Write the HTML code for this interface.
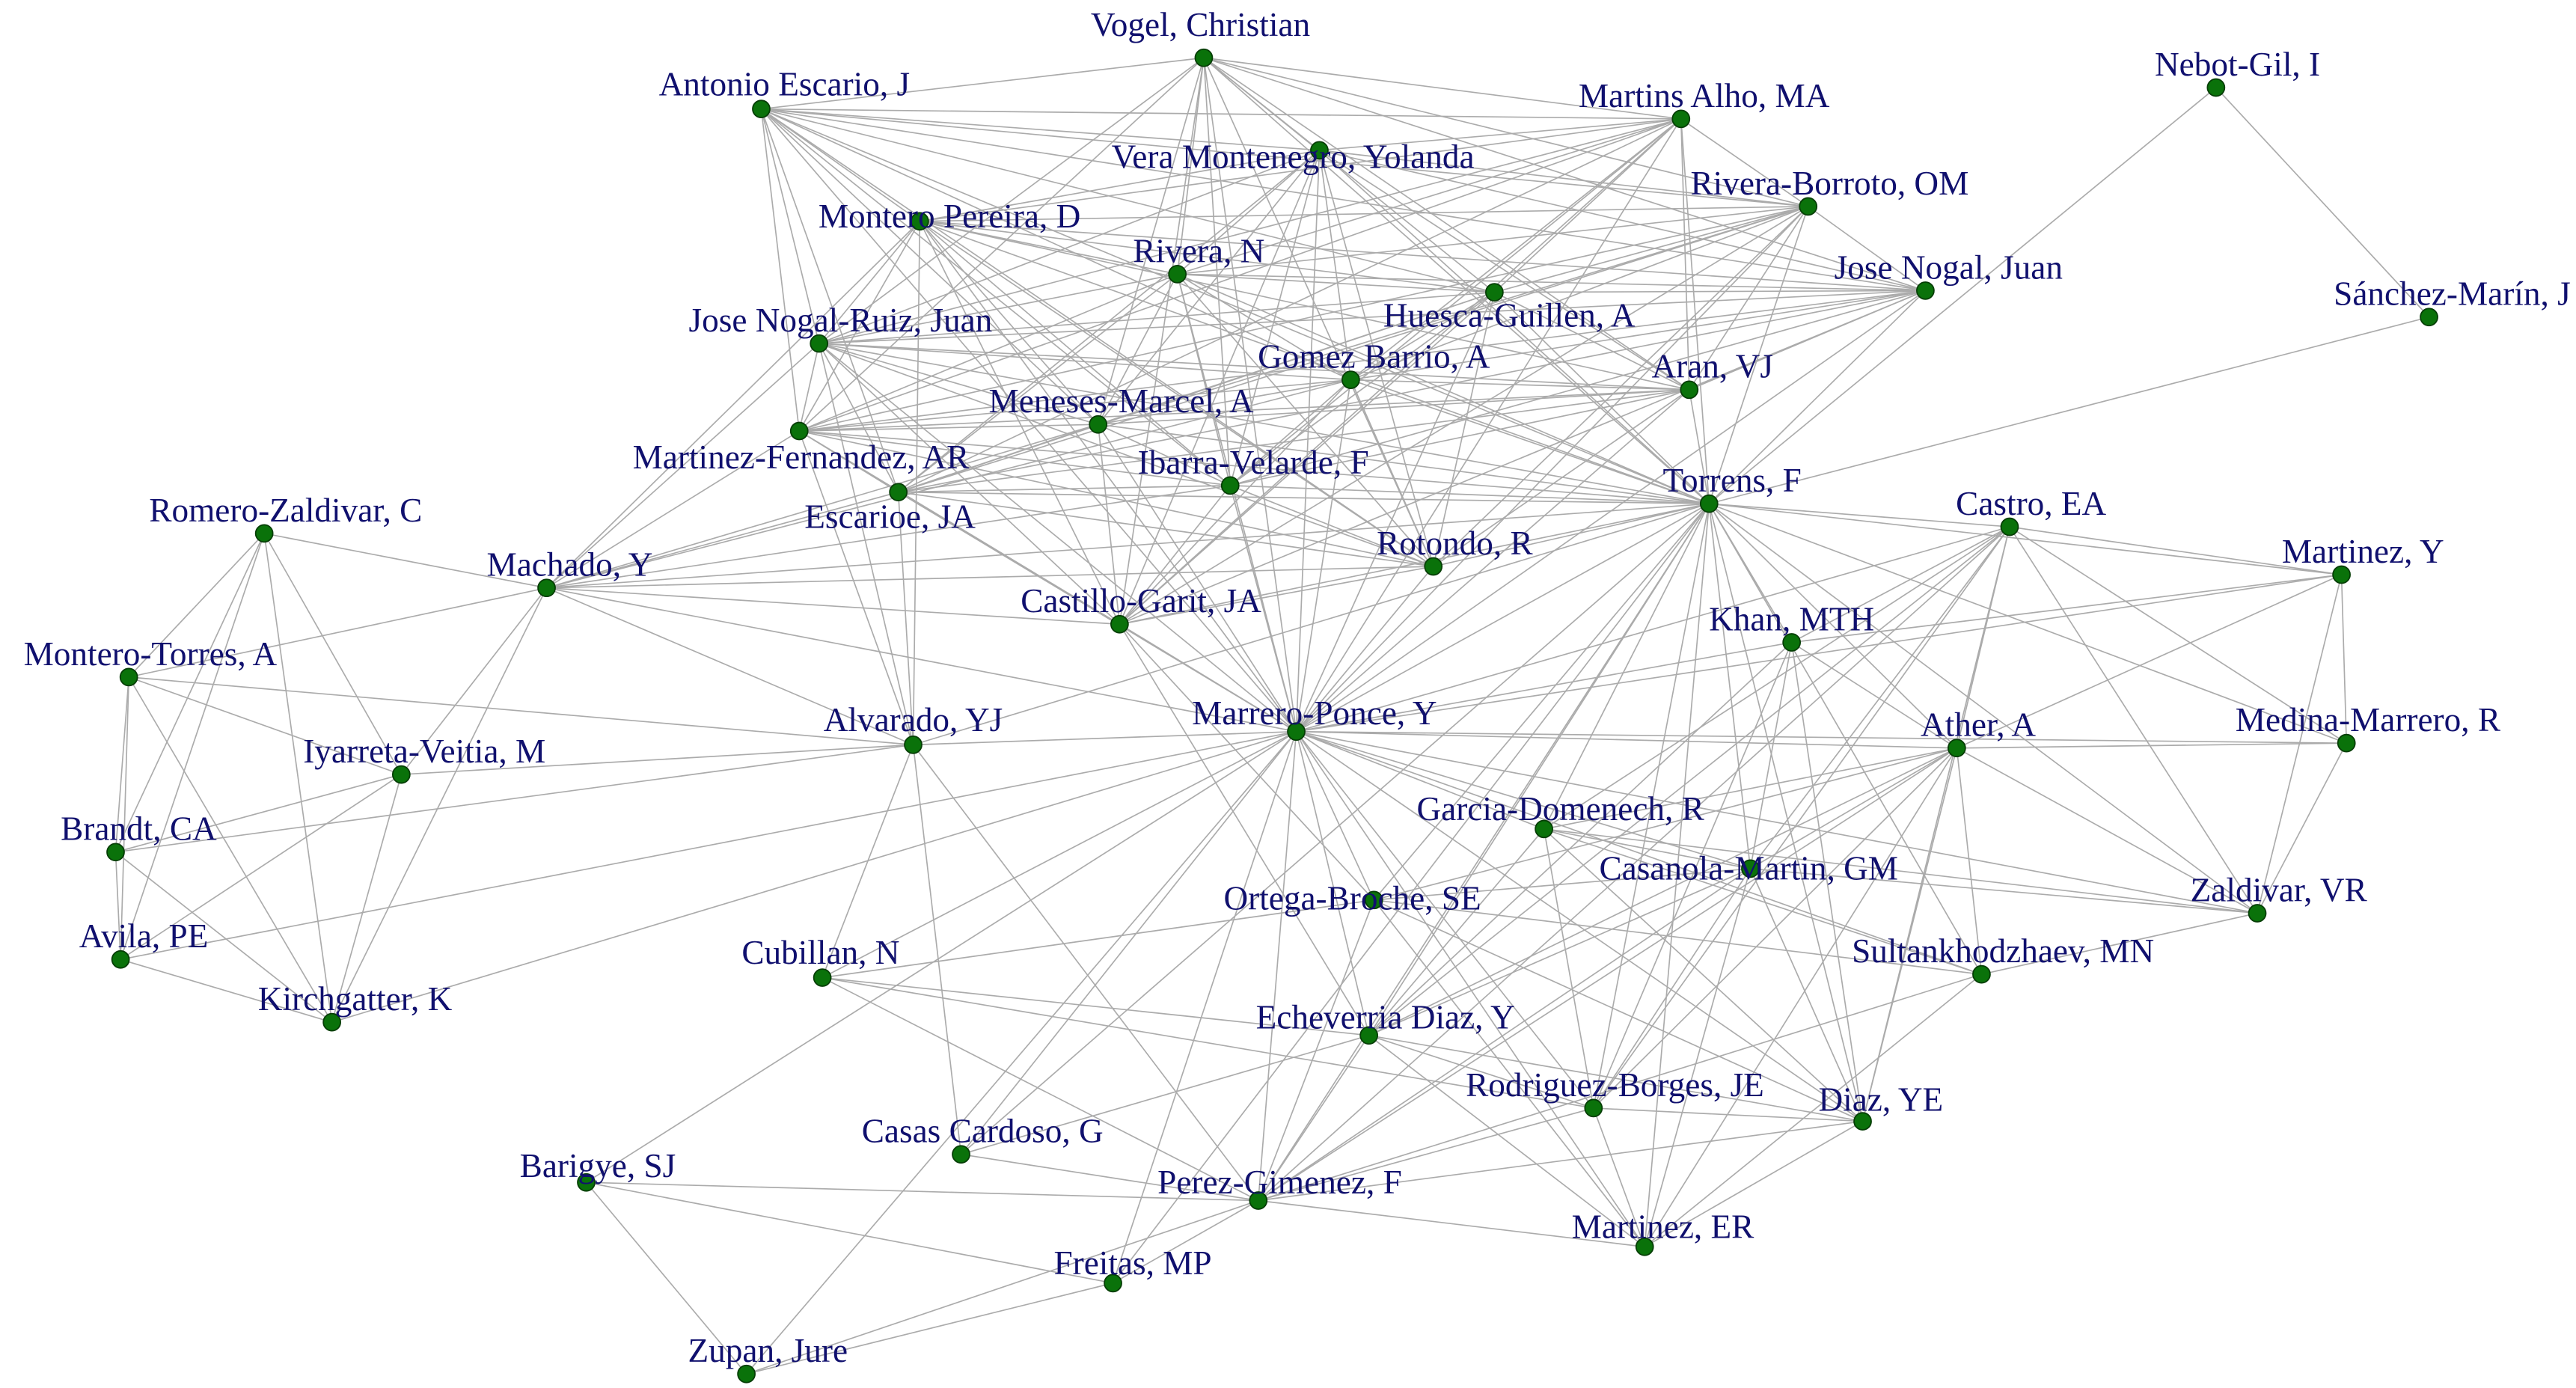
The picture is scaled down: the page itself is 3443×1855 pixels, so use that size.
<!DOCTYPE html>
<html><head><meta charset="utf-8"><style>
html,body{margin:0;padding:0;background:#fff;}
svg{display:block;}
text{font-family:"Liberation Serif",serif;font-size:20.5px;fill:#10106e;text-anchor:middle;dominant-baseline:middle;}
</style></head><body>
<svg id="s" width="3443" height="1855" viewBox="0 0 1560 840.5" xmlns="http://www.w3.org/2000/svg">
<g id="e" stroke="#ababab" stroke-width="0.75" fill="none"></g>
<g id="n"></g>
<g id="t"></g>
</svg>
<script>
var N={
VO:[729,35,"Vogel, Christian",727,17],
AE:[461,66,"Antonio Escario, J",475,53],
MA:[1018,72,"Martins Alho, MA",1032,60],
VM:[799,91,"Vera Montenegro, Yolanda",783,97],
NB:[1342,53,"Nebot-Gil, I",1355,41],
RB:[1095,125,"Rivera-Borroto, OM",1108,113],
MP:[557,134,"Montero Pereira, D",575,133],
RN:[713,166,"Rivera, N",726,154],
JN:[1166,176,"Jose Nogal, Juan",1180,164],
HG:[905,177,"Huesca-Guillen, A",914,193],
SM:[1471,192,"Sánchez-Marín, J",1485,180],
NR:[496,208,"Jose Nogal-Ruiz, Juan",509,196],
GB:[818,230,"Gomez Barrio, A",832,218],
AR:[1023,236,"Aran, VJ",1037,224],
MM:[665,257,"Meneses-Marcel, A",679,245],
MF:[484,261,"Martinez-Fernandez, AR",485,279],
IV:[745,294,"Ibarra-Velarde, F",759,282],
ES:[544,298,"Escarioe, JA",539,315],
TO:[1035,305,"Torrens, F",1049,293],
CA:[1217,319,"Castro, EA",1230,307],
RZ:[160,323,"Romero-Zaldivar, C",173,311],
MC:[331,356,"Machado, Y",345,344],
RO:[868,343,"Rotondo, R",881,331],
MY:[1418,348,"Martinez, Y",1431,336],
CG:[678,378,"Castillo-Garit, JA",691,366],
KH:[1085,389,"Khan, MTH",1085,377],
MT:[78,410,"Montero-Torres, A",91,398],
AL:[553,451,"Alvarado, YJ",553,438],
MR:[785,443,"Marrero-Ponce, Y",796,434],
AT:[1185,453,"Ather, A",1198,441],
MD:[1421,450,"Medina-Marrero, R",1434,438],
IY:[243,469,"Iyarreta-Veitia, M",257,457],
BR:[70,516,"Brandt, CA",84,504],
GD:[935,502,"Garcia-Domenech, R",945,492],
CM:[1060,526,"Casanola-Martin, GM",1059,528],
OB:[832,545,"Ortega-Broche, SE",819,546],
ZV:[1367,553,"Zaldivar, VR",1380,541],
AV:[73,581,"Avila, PE",87,569],
SU:[1200,590,"Sultankhodzhaev, MN",1213,578],
CU:[498,592,"Cubillan, N",497,579],
KI:[201,619,"Kirchgatter, K",215,607],
ED:[829,627,"Echeverria Diaz, Y",839,618],
RJ:[965,671,"Rodriguez-Borges, JE",978,659],
DY:[1128,679,"Diaz, YE",1139,668],
CC:[582,699,"Casas Cardoso, G",595,687],
BS:[355,716,"Barigye, SJ",362,708],
PG:[762,727,"Perez-Gimenez, F",775,718],
ME:[996,755,"Martinez, ER",1007,745],
FR:[674,777,"Freitas, MP",686,767],
ZU:[452,832,"Zupan, Jure",465,820]};
var E={};
function add(a,b){if(a==b)return;var k=a<b?a+b:b+a;E[k]=[a,b];}
var list="RZ-MT RZ-BR RZ-AV RZ-IY RZ-KI RZ-MC MT-BR MT-AV MT-IY MT-KI MT-MC BR-AV BR-IY BR-KI BR-AL AV-KI AV-IY AV-MR IY-KI IY-MC IY-AL KI-MC KI-MR MT-AL NB-TO NB-SM SM-TO BS-MR BS-PG BS-FR BS-ZU ZU-PG ZU-FR ZU-MR FR-PG FR-MR FR-TO MC-MP MC-NR MC-ES MC-IV MC-MM MC-AL MC-MR MC-CG MC-TO MC-GB MC-MF MC-RO CA-MY CA-MR CA-ZV CA-KH CA-MD MY-MD MY-ZV MY-MR MY-KH MY-AT MD-ZV MD-MR MD-TO MD-AT ZV-MR ZV-TO ZV-AT ZV-GD ZV-CM ZV-SU AL-CU AL-CC AL-PG AL-TO AL-MP AL-NR AL-MF AL-ES CU-PG CU-ED CU-OB CU-RJ CU-MR CC-MR CC-TO CC-ED CC-PG DY-PG DY-MR DY-TO ME-PG ME-MR ME-TO ME-OB CG-RO CG-OB CG-ED";
list.split(" ").forEach(function(p){var q=p.split("-");add(q[0],q[1]);});
var T=["VO","AE","MA","VM","RB","MP","RN","JN","HG","NR","GB","AR","MM","MF","IV","ES","CG","RO"];
for(var i=0;i<T.length;i++)for(var j=i+1;j<T.length;j++){if((i*7+j*3)%5!=0)add(T[i],T[j]);}
var B=["KH","AT","SU","CM","GD","DY","OB","ED","PG","RJ","ME","CA"];
for(var i=0;i<B.length;i++)for(var j=i+1;j<B.length;j++){if((i*5+j*2)%4!=0)add(B[i],B[j]);}
var exM={RZ:1,MT:1,IY:1,BR:1,NB:1,SM:1,MR:1};
for(var k in N){if(!exM[k])add("MR",k);}
var exT={RZ:1,MT:1,IY:1,BR:1,AV:1,KI:1,BS:1,ZU:1,CU:1,TO:1};
for(var k in N){if(!exT[k])add("TO",k);}
var s="http://www.w3.org/2000/svg",g=document.getElementById("e"),gn=document.getElementById("n"),gt=document.getElementById("t");
for(var k in E){var a=N[E[k][0]],b=N[E[k][1]];var l=document.createElementNS(s,"line");l.setAttribute("x1",a[0]);l.setAttribute("y1",a[1]);l.setAttribute("x2",b[0]);l.setAttribute("y2",b[1]);g.appendChild(l);}
for(var k in N){var d=N[k];var c=document.createElementNS(s,"circle");c.setAttribute("cx",d[0]);c.setAttribute("cy",d[1]);c.setAttribute("r","5.2");c.setAttribute("fill","#0a720a");c.setAttribute("stroke","#053d05");c.setAttribute("stroke-width","0.8");gn.appendChild(c);
var t=document.createElementNS(s,"text");t.setAttribute("x",d[3]);t.setAttribute("y",d[4]);t.textContent=d[2];gt.appendChild(t);}
</script>
</body></html>
